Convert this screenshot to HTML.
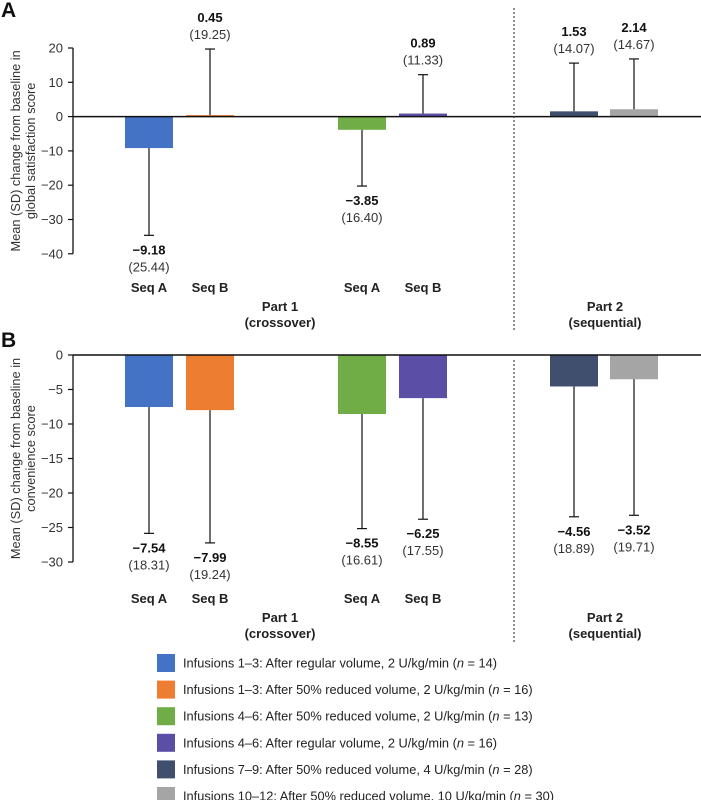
<!DOCTYPE html>
<html><head><meta charset="utf-8">
<style>
html,body{margin:0;padding:0;background:#fff;}
svg{display:block;font-family:"Liberation Sans",Arial,sans-serif;}
</style></head>
<body>
<svg id="chart" width="701" height="800" viewBox="0 0 701 800" xmlns="http://www.w3.org/2000/svg"></svg>
<script>
const colors = ["#4472C4","#ED7D31","#70AD47","#5A4EA6","#3F4F6D","#A5A5A5"];
const barNames = ["seqA-part1-inf1-3","seqB-part1-inf1-3","seqA-part1-inf4-6","seqB-part1-inf4-6","part2-inf7-9","part2-inf10-12"];
const satMeans = [-9.18, 0.45, -3.85, 0.89, 1.53, 2.14];
const satSD = [25.44, 19.25, 16.40, 11.33, 14.07, 14.67];
const convMeans = [-7.54, -7.99, -8.55, -6.25, -4.56, -3.52];
const convSD = [18.31, 19.24, 16.61, 17.55, 18.89, 19.71];
const satTicks = [20, 10, 0, -10, -20, -30, -40];
const convTicks = [0, -5, -10, -15, -20, -25, -30];
const legendLabels = [
 "Infusions 1–3: After regular volume, 2 U/kg/min (",
 "Infusions 1–3: After 50% reduced volume, 2 U/kg/min (",
 "Infusions 4–6: After 50% reduced volume, 2 U/kg/min (",
 "Infusions 4–6: After regular volume, 2 U/kg/min (",
 "Infusions 7–9: After 50% reduced volume, 4 U/kg/min (",
 "Infusions 10–12: After 50% reduced volume, 10 U/kg/min ("];
const legendN = [14, 16, 13, 16, 28, 30];

const NS = "http://www.w3.org/2000/svg";
const svg = document.getElementById("chart");
function mk(tag, attrs, parent, text){
  const e = document.createElementNS(NS, tag);
  for (const k in attrs) e.setAttribute(k, attrs[k]);
  if (text !== undefined) e.textContent = text;
  (parent||svg).appendChild(e);
  return e;
}
const barX = [125, 186, 338, 399, 550, 610];
const barW = 48;

function panel(opts){
  const g = mk("g", {});
  
  
  const y = v => opts.y0 + (opts.yMax - v) * opts.scale;
  const zeroY = y(0);
  const L = mk("text", {x:1, y:opts.letterY, "font-size":21, "font-weight":"bold", fill:"#111"}, g, opts.letter);
  
  
  const ax = mk("line", {x1:73, x2:73, y1:y(opts.ticks[0]), y2:y(opts.ticks[opts.ticks.length-1]), stroke:"#111", "stroke-width":1.3}, g);
  
  
  opts.ticks.forEach(t=>{
    mk("line", {x1:68, x2:73, y1:y(t), y2:y(t), stroke:"#111", "stroke-width":1.2}, g);
    const tl = mk("text", {x:63, y:y(t)+4.5, "font-size":13, fill:"#333", "text-anchor":"end"}, g, t<0 ? "−"+Math.abs(t) : String(t));
    
    
  });
  const cy = (y(opts.ticks[0]) + y(opts.ticks[opts.ticks.length-1]))/2;
  const yt = mk("text", {transform:`translate(20,${cy}) rotate(-90)`, "font-size":12.8, fill:"#333", "text-anchor":"middle"}, g);
  
  
  mk("tspan", {x:0, dy:0}, yt, "Mean (SD) change from baseline in");
  mk("tspan", {x:0, dy:15}, yt, opts.title2);
  opts.means.forEach((m,i)=>{
    const top = Math.min(y(m), zeroY), h = Math.abs(y(m)-zeroY);
    const r = mk("rect", {x:barX[i], y:top, width:barW, height:Math.max(h,1), fill:colors[i]}, g);
    
    
    const cx = barX[i] + barW/2;
    const end = m >= 0 ? m + opts.sd[i] : m - opts.sd[i];
    const eb = mk("line", {x1:cx, x2:cx, y1:y(m), y2:y(end), stroke:"#111", "stroke-width":1.2}, g);
    
    
    mk("line", {x1:cx-5, x2:cx+5, y1:y(end), y2:y(end), stroke:"#111", "stroke-width":1.2}, g);
    let ly1, ly2;
    if (m >= 0){ ly2 = y(end) - 10; ly1 = ly2 - 17; }
    else { ly1 = y(end) + 19; ly2 = ly1 + 17; }
    const v = mk("text", {x:cx, y:ly1, "font-size":13, "font-weight":"bold", fill:"#111", "text-anchor":"middle"}, g, (m<0?"−":"") + Math.abs(m).toFixed(2));
    
    
    const s = mk("text", {x:cx, y:ly2, "font-size":13, fill:"#333", "text-anchor":"middle"}, g, "(" + opts.sd[i].toFixed(2) + ")");
    
    
  });
  const zl = mk("line", {x1:73, x2:701, y1:zeroY, y2:zeroY, stroke:"#111", "stroke-width":1.5}, g);
  
  
  const dv = mk("line", {x1:514, x2:514, y1:opts.divY1, y2:opts.divY2, stroke:"#444", "stroke-width":1.2, "stroke-dasharray":"2,2"}, g);
  
  
  const seq = ["Seq A","Seq B","Seq A","Seq B"];
  seq.forEach((s,i)=>{
    const t = mk("text", {x:barX[i]+barW/2, y:opts.catY, "font-size":13, "font-weight":"bold", fill:"#222", "text-anchor":"middle"}, g, s);
    
    
  });
  [[280,"Part 1","(crossover)"],[605,"Part 2","(sequential)"]].forEach(p=>{
    const t1 = mk("text", {x:p[0], y:opts.catY+19, "font-size":13, "font-weight":"bold", fill:"#222", "text-anchor":"middle"}, g, p[1]);
    
    
    const t2 = mk("text", {x:p[0], y:opts.catY+35, "font-size":13, "font-weight":"bold", fill:"#222", "text-anchor":"middle"}, g, p[2]);
    
    
  });
}

panel({name:"panel-a-satisfaction", letter:"A", letterY:17, y0:48, yMax:20, scale:3.43, ticks:satTicks,
  means:satMeans, sd:satSD, title2:"global satisfaction score", catY:292, divY1:8, divY2:330});
panel({name:"panel-b-convenience", letter:"B", letterY:347, y0:355, yMax:0, scale:6.9, ticks:convTicks,
  means:convMeans, sd:convSD, title2:"convenience score", catY:603, divY1:360, divY2:642});

const lg = mk("g", {});


legendLabels.forEach((lab,i)=>{
  const cy = 663 + i*26.6;
  const e = mk("g", {}, lg);
  
  
  mk("rect", {x:157, y:cy-9, width:18, height:18, fill:colors[i]}, e);
  const t = mk("text", {x:183, y:cy+4.5, "font-size":12.8, fill:"#222"}, e, lab);
  mk("tspan", {"font-style":"italic"}, t, "n");
  mk("tspan", {}, t, " = " + legendN[i] + ")");
});
</script>
</body></html>
